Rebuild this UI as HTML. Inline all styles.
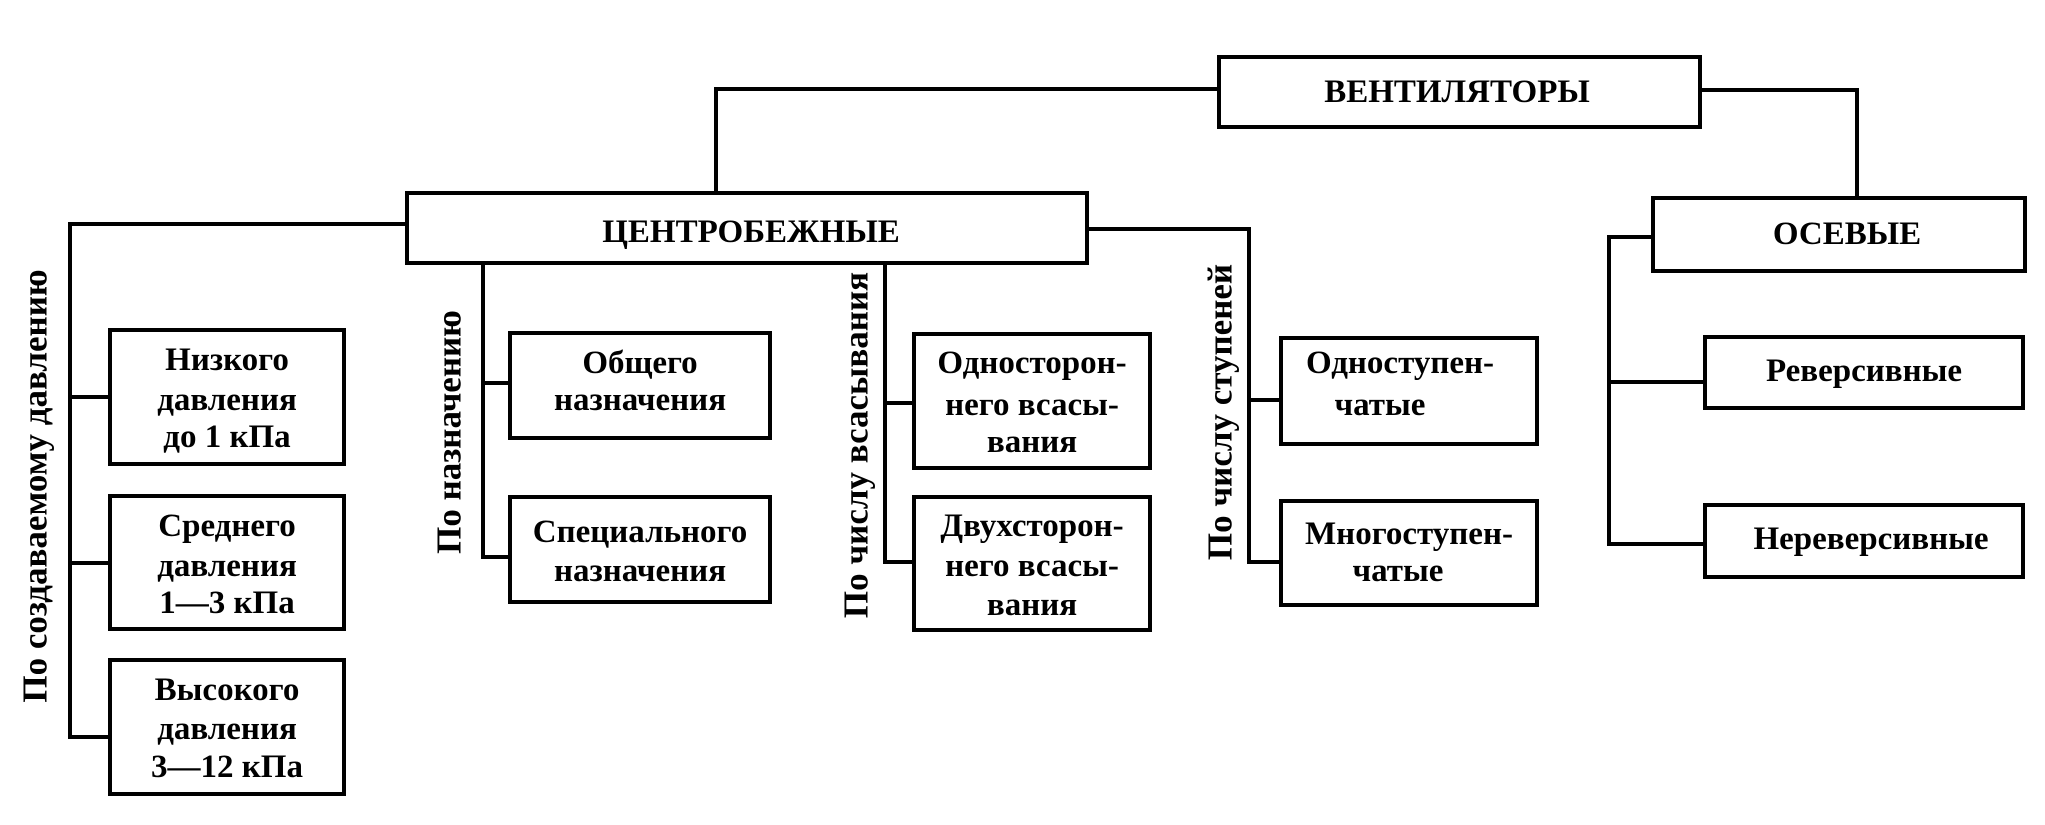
<!DOCTYPE html>
<html><head><meta charset="utf-8"><style>
html,body{margin:0;padding:0;background:#fff;}
svg{display:block;}
text{font-family:"Liberation Serif",serif;font-weight:bold;font-size:33px;fill:#000;text-anchor:middle;dominant-baseline:central;}
text.v{font-size:35px;}
</style></head><body>
<svg width="2045" height="825" viewBox="0 0 2045 825" xmlns="http://www.w3.org/2000/svg">
<g fill="none" stroke="#000" stroke-width="4">
<rect x="1219" y="57" width="481" height="70"/>
<rect x="407" y="193" width="680" height="70"/>
<rect x="1653" y="198" width="372" height="73"/>
<rect x="110" y="330" width="234" height="134"/>
<rect x="110" y="496" width="234" height="133"/>
<rect x="110" y="660" width="234" height="134"/>
<rect x="510" y="333" width="260" height="105"/>
<rect x="510" y="497" width="260" height="105"/>
<rect x="914" y="334" width="236" height="134"/>
<rect x="914" y="497" width="236" height="133"/>
<rect x="1281" y="338" width="256" height="106"/>
<rect x="1281" y="501" width="256" height="104"/>
<rect x="1705" y="337" width="318" height="71"/>
<rect x="1705" y="505" width="318" height="72"/>
<polyline points="1219,89 716,89 716,193"/>
<polyline points="1700,90 1857,90 1857,198"/>
<polyline points="407,224 70,224 70,737 110,737"/>
<line x1="70" y1="397" x2="110" y2="397"/>
<line x1="70" y1="563" x2="110" y2="563"/>
<polyline points="483,263 483,557 510,557"/>
<line x1="483" y1="383" x2="510" y2="383"/>
<polyline points="885,263 885,562 914,562"/>
<line x1="885" y1="403" x2="914" y2="403"/>
<polyline points="1087,229 1249,229 1249,562 1281,562"/>
<line x1="1249" y1="400" x2="1281" y2="400"/>
<polyline points="1653,237 1609,237 1609,544 1705,544"/>
<line x1="1609" y1="382" x2="1705" y2="382"/>
</g>
<text x="1457" y="92">ВЕНТИЛЯТОРЫ</text>
<text x="751" y="232">ЦЕНТРОБЕЖНЫЕ</text>
<text x="1847" y="234">ОСЕВЫЕ</text>
<text x="227" y="360">Низкого</text><text x="227" y="400">давления</text><text x="227" y="437">до 1 кПа</text>
<text x="227" y="526">Среднего</text><text x="227" y="566">давления</text><text x="227" y="603">1—3 кПа</text>
<text x="227" y="690">Высокого</text><text x="227" y="729">давления</text><text x="227" y="767">3—12 кПа</text>
<text x="640" y="363">Общего</text><text x="640" y="400">назначения</text>
<text x="640" y="532">Специального</text><text x="640" y="571">назначения</text>
<text x="1032" y="363">Односторон-</text><text x="1032" y="405">него всасы-</text><text x="1032" y="442">вания</text>
<text x="1032" y="526">Двухсторон-</text><text x="1032" y="566">него всасы-</text><text x="1032" y="605">вания</text>
<text x="1400" y="363">Одноступен-</text><text x="1380" y="405">чатые</text>
<text x="1409" y="534">Многоступен-</text><text x="1398" y="571">чатые</text>
<text x="1864" y="371">Реверсивные</text>
<text x="1871" y="539">Нереверсивные</text>
<text class="v" transform="translate(35,486) rotate(-90)">По создаваемому давлению</text>
<text class="v" transform="translate(449,432) rotate(-90)">По назначению</text>
<text class="v" transform="translate(856,445) rotate(-90)">По числу всасывания</text>
<text class="v" transform="translate(1220,412) rotate(-90)">По числу ступеней</text>
</svg>
</body></html>
